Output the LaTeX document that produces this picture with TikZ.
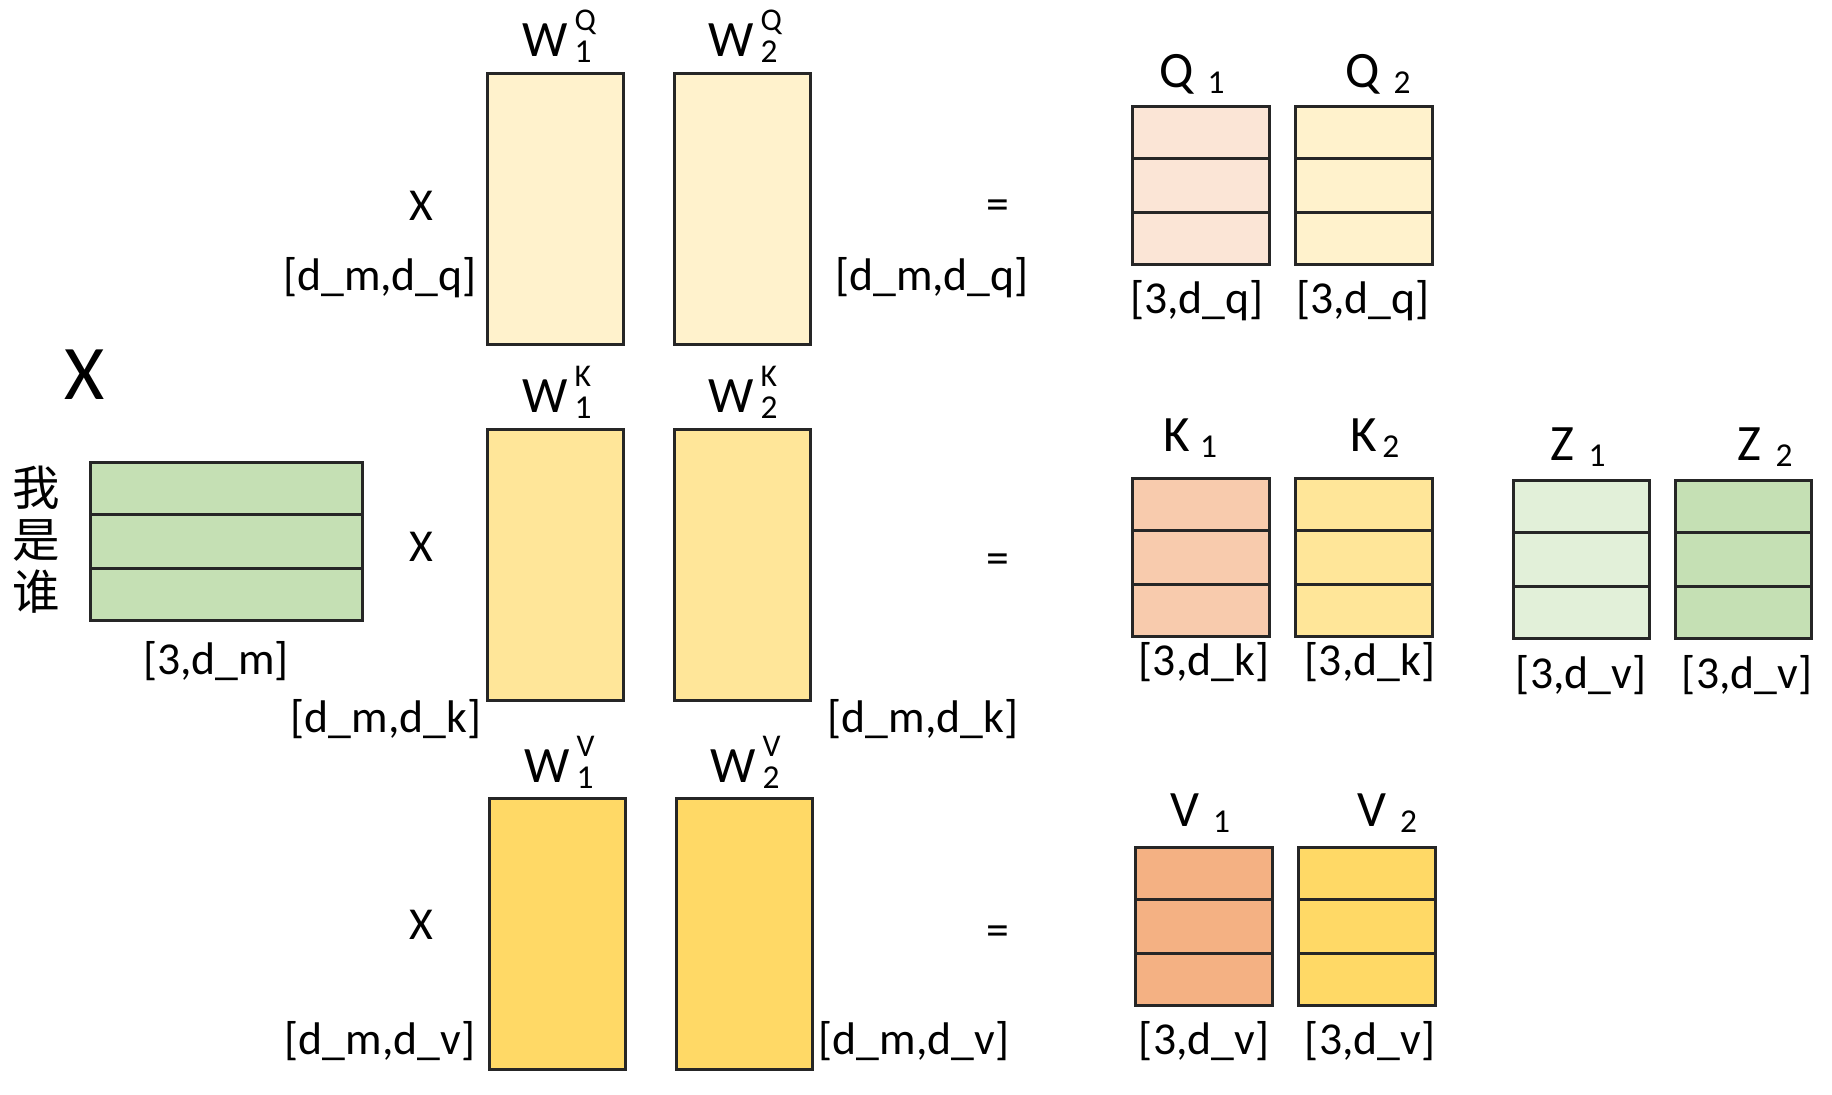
\documentclass[tikz,border=0pt]{standalone}
\usepackage{fontspec}
\setmainfont{Carlito}
\newfontfamily\cjk{Noto Sans CJK SC}
\usetikzlibrary{calc}

\definecolor{xgreen}{HTML}{C5E0B4}
\definecolor{zlight}{HTML}{E2F0D9}
\definecolor{wqfill}{HTML}{FFF2CC}
\definecolor{wkfill}{HTML}{FFE699}
\definecolor{wvfill}{HTML}{FFD966}
\definecolor{qpeach}{HTML}{FBE5D6}
\definecolor{kpeach}{HTML}{F8CBAD}
\definecolor{vpeach}{HTML}{F4B183}

% W with super- and subscript, Q_1 style names
\newcommand\wname[2]{W\kern2pt\rlap{\raisebox{0.52em}{\fontsize{9}{9}\selectfont #1}}\raisebox{-0.1em}{\fontsize{9.5}{9.5}\selectfont #2}}
\newcommand\mname[3][4pt]{#2\kern#1\raisebox{-0.1em}{\fontsize{9.5}{9.5}\selectfont #3}}
\newcommand\rowlines[1]{%
  \foreach \f in {0.3333,0.6667}
    {\draw[rowline] ($(#1.north west)!\f!(#1.south west)$) -- ($(#1.north east)!\f!(#1.south east)$);}}

\tikzset{
  wmat/.style={draw=black!85, line width=0.9pt, anchor=north west, inner sep=0pt,
               minimum width=1.36cm, minimum height=2.71cm},
  rmat/.style={draw=black!85, line width=0.9pt, anchor=north west, inner sep=0pt,
               minimum width=1.37cm, minimum height=1.58cm},
  rowline/.style={draw=black!85, line width=0.9pt},
  dimlab/.style={font=\fontsize{13}{15}\selectfont, anchor=base, inner sep=0pt},
  namelab/.style={font=\fontsize{14.5}{16}\selectfont, anchor=base, inner sep=0pt},
  oplab/.style={font=\fontsize{13}{15}\selectfont, inner sep=0pt},
}

\begin{document}
\begin{tikzpicture}[x=0.01cm, y=-0.01cm]
\useasboundingbox (0,0) rectangle (1832,1095);

% input X
\node[font=\fontsize{22}{24}\selectfont, inner sep=0pt] (xname) at (85,375) {X};
\node[font=\cjk\fontsize{13.5}{14.8}\selectfont, align=center, inner sep=0pt] (words) at (36,540) {我\\是\\谁};
\node[rmat, fill=xgreen, minimum width=2.72cm] (xin) at (89,461) {};
\rowlines{xin}
\node[dimlab] (xdim) at (216,675) {[3,d\_m]};

% weight matrices
\node[wmat, fill=wqfill] (wq1) at (486,72) {};
\node[wmat, fill=wqfill] (wq2) at (673,72) {};
\node[wmat, fill=wkfill] (wk1) at (486,428) {};
\node[wmat, fill=wkfill] (wk2) at (673,428) {};
\node[wmat, fill=wvfill] (wv1) at (488,797) {};
\node[wmat, fill=wvfill] (wv2) at (675,797) {};

\node[namelab] (wq1lab) at (557,57) {\wname{Q}{1}};
\node[namelab] (wq2lab) at (743,57) {\wname{Q}{2}};
\node[namelab] (wk1lab) at (557,413) {\wname{K}{1}};
\node[namelab] (wk2lab) at (743,413) {\wname{K}{2}};
\node[namelab] (wv1lab) at (559,783) {\wname{V}{1}};
\node[namelab] (wv2lab) at (745,783) {\wname{V}{2}};

\node[oplab] (tq) at (421,206) {X};
\node[oplab] (tk) at (421,547) {X};
\node[oplab] (tv) at (421,925) {X};
\node[oplab] (eq) at (998,210) {=};
\node[oplab] (ek) at (998,564) {=};
\node[oplab] (ev) at (998,936) {=};

\node[dimlab] (wqdl) at (380,291) {[d\_m,d\_q]};
\node[dimlab] (wqdr) at (932,291) {[d\_m,d\_q]};
\node[dimlab] (wkdl) at (386,733) {[d\_m,d\_k]};
\node[dimlab] (wkdr) at (923,733) {[d\_m,d\_k]};
\node[dimlab] (wvdl) at (380,1055) {[d\_m,d\_v]};
\node[dimlab] (wvdr) at (914,1055) {[d\_m,d\_v]};

% results
\node[rmat, fill=qpeach] (q1) at (1131,105) {};
\node[rmat, fill=wqfill] (q2) at (1294,105) {};
\node[rmat, fill=kpeach] (k1) at (1131,477) {};
\node[rmat, fill=wkfill] (k2) at (1294,477) {};
\node[rmat, fill=vpeach] (v1) at (1134,846) {};
\node[rmat, fill=wvfill] (v2) at (1297,846) {};
\node[rmat, fill=zlight, minimum width=1.36cm] (z1) at (1512,479) {};
\node[rmat, fill=xgreen, minimum width=1.36cm] (z2) at (1674,479) {};
\foreach \m in {q1,q2,k1,k2,v1,v2,z1,z2}
  {\rowlines{\m}}

\node[namelab] (q1lab) at (1192,88) {\mname{Q}{1}};
\node[namelab] (q2lab) at (1378,88) {\mname{Q}{2}};
\node[namelab] (k1lab) at (1190,452) {\mname[3pt]{K}{1}};
\node[namelab] (k2lab) at (1375,452) {\mname[1.5pt]{K}{2}};
\node[namelab] (z1lab) at (1578,461) {\mname{Z}{1}};
\node[namelab] (z2lab) at (1765,461) {\mname{Z}{2}};
\node[namelab] (v1lab) at (1200,827) {\mname{V}{1}};
\node[namelab] (v2lab) at (1387,827) {\mname{V}{2}};

\node[dimlab] (q1dim) at (1197,314) {[3,d\_q]};
\node[dimlab] (q2dim) at (1363,314) {[3,d\_q]};
\node[dimlab] (k1dim) at (1204,676) {[3,d\_k]};
\node[dimlab] (k2dim) at (1370,676) {[3,d\_k]};
\node[dimlab] (z1dim) at (1581,689) {[3,d\_v]};
\node[dimlab] (z2dim) at (1747,689) {[3,d\_v]};
\node[dimlab] (v1dim) at (1204,1055) {[3,d\_v]};
\node[dimlab] (v2dim) at (1370,1055) {[3,d\_v]};
\end{tikzpicture}
\end{document}
